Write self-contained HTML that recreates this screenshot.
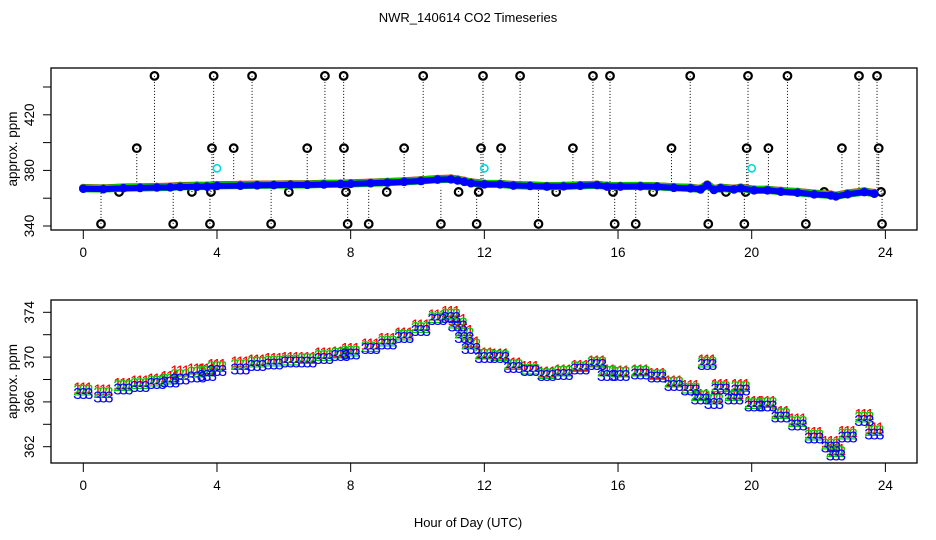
<!DOCTYPE html>
<html><head><meta charset="utf-8"><style>
body{margin:0;background:#fff}
svg{display:block;font-family:"Liberation Sans",sans-serif}
</style></head><body>
<svg id="chart" width="936" height="540" viewBox="0 0 936 540" xmlns="http://www.w3.org/2000/svg">
<rect width="936" height="540" fill="#fff"/>
<text x="468" y="22" font-size="13" text-anchor="middle">NWR_140614  CO2 Timeseries</text>
<text x="468" y="527" font-size="13" text-anchor="middle">Hour of Day (UTC)</text>
<g id="top"></g><g id="bot"></g>
</svg>
<script>
const hours=[0,0.6,1.2,1.7,2.2,2.6,2.9,3.4,3.7,4.0,4.7,5.2,5.7,6.2,6.7,7.2,7.7,8.0,8.6,9.1,9.6,10.1,10.6,11.0,11.2,11.4,11.6,12.0,12.47,12.87,13.37,13.87,14.37,14.87,15.37,15.67,16.07,16.67,17.17,17.67,18.17,18.47,18.67,18.87,19.07,19.47,19.67,20.07,20.47,20.87,21.37,21.87,22.37,22.52,22.87,23.37,23.67];
const series3=[366.8,366.5,367.2,367.4,367.7,367.8,368.1,368.25,368.4,368.85,369.0,369.3,369.45,369.6,369.6,369.9,370.2,370.3,370.8,371.2,371.8,372.4,373.4,373.6,372.8,371.8,370.8,370.0,370.0,369.1,368.85,368.4,368.5,369.0,369.4,368.4,368.4,368.55,368.25,367.5,367.1,366.3,369.4,365.9,367.2,366.3,367.1,365.7,365.7,364.7,364.0,362.8,362.0,361.3,362.9,364.4,363.2];
const series2=[367.1,366.9,367.5,367.7,367.9,368.1,368.5,368.7,368.8,369.2,369.4,369.6,369.7,369.8,369.9,370.2,370.4,370.6,371.0,371.5,372.0,372.7,373.6,373.9,373.1,372.2,371.2,370.3,370.2,369.4,369.0,368.6,368.8,369.2,369.6,368.8,368.7,368.8,368.5,367.8,367.3,366.6,369.6,366.3,367.4,366.6,367.4,365.9,366.0,365.0,364.3,363.1,362.3,361.6,363.2,364.7,363.5];
const series1=[367.3,367.1,367.7,367.9,368.1,368.3,368.8,369.0,369.0,369.4,369.6,369.8,369.9,370.0,370.0,370.4,370.5,370.8,371.2,371.7,372.2,372.9,373.8,374.1,373.4,372.4,371.4,370.4,370.3,369.5,369.2,368.7,368.9,369.3,369.7,368.9,368.8,368.9,368.6,367.9,367.5,366.7,369.8,366.5,367.6,366.8,367.6,366.1,366.1,365.2,364.5,363.3,362.5,361.8,363.4,364.9,363.7];
const outHours=[2.13,3.9,5.05,7.23,7.79,10.17,11.96,13.07,15.25,15.76,18.16,19.89,21.07,23.21,23.75,
 1.6,3.85,4.5,6.7,7.8,9.6,11.9,12.5,14.65,17.6,19.85,20.5,22.7,23.8,
 1.07,3.25,3.82,6.15,7.86,9.08,11.23,11.83,14.15,15.85,17.05,19.23,19.82,22.17,23.87,
 0.53,2.69,3.79,5.62,7.91,8.54,10.7,11.77,13.62,15.9,16.53,18.7,19.78,21.62,23.9];
const outValues=[448,448,448,448,448,448,448,448,448,448,448,448,448,448,448,
 396,396,396,396,396,396,396,396,396,396,396,396,396,396,
 364.5,364.5,364.5,364.5,364.5,364.5,364.5,364.5,364.5,364.5,364.5,364.5,364.5,364.5,364.5,
 341.5,341.5,341.5,341.5,341.5,341.5,341.5,341.5,341.5,341.5,341.5,341.5,341.5,341.5,341.5];
const cyanHours=[4.0,12.0,20.0];
const cyanValues=[381.5,381.5,381.5];
const xTicks=[0,4,8,12,16,20,24];
const topYTicks=[340,360,380,400,420,440];
const topYLabels=[340,380,420];
const botYTicks=[362,364,366,368,370,372,374];
const botYLabels=[362,366,370,374];

const NS='http://www.w3.org/2000/svg';
function mk(p,t,a){const e=document.createElementNS(NS,t);for(const k in a)e.setAttribute(k,a[k]);p.appendChild(e);return e;}
const X=h=>83.3+h*33.42;
const topY=v=>226-(v-340)*1.39;
const botY=v=>312.3-(v-374)*11.2;

function frame(g,top,bot,yt,yl,Y,name){
  let r=mk(g,'rect',{x:51,y:top,width:866,height:bot-top,fill:'none',stroke:'#000','stroke-width':1.3});
  
  
  xTicks.forEach(h=>{
    let l=mk(g,'line',{x1:X(h),x2:X(h),y1:bot,y2:bot+9,stroke:'#000'});
    
    
    let t=mk(g,'text',{x:X(h),y:bot+27,'font-size':13.5,'text-anchor':'middle'});t.textContent=h;
    
    
  });
  yt.forEach(v=>{
    let l=mk(g,'line',{x1:43,x2:51,y1:Y(v),y2:Y(v),stroke:'#000'});
    
    
  });
  yl.forEach(v=>{
    let t=mk(g,'text',{x:0,y:0,'font-size':13.5,'text-anchor':'middle',transform:`translate(34,${Y(v)}) rotate(-90)`});t.textContent=v;
    
    
  });
  let a=mk(g,'text',{x:0,y:0,'font-size':13.5,'text-anchor':'middle',transform:`translate(17,${(top+bot)/2}) rotate(-90)`});a.textContent='approx. ppm';
  
  
}
const gt=document.getElementById('top'),gb=document.getElementById('bot');
frame(gt,68,230,topYTicks,topYLabels,topY,'top');
frame(gb,300,463,botYTicks,botYLabels,botY,'bottom');

outHours.forEach((h,i)=>{
  let l=mk(gt,'line',{x1:X(h),x2:X(h),y1:topY(outValues[i]),y2:topY(367.5),stroke:'#000','stroke-dasharray':'1,2'});
  
  
  let c=mk(gt,'circle',{cx:X(h),cy:topY(outValues[i]),r:3.8,fill:'none',stroke:'#000','stroke-width':2.2});
  
  
});
cyanHours.forEach((h,i)=>{
  let c=mk(gt,'circle',{cx:X(h),cy:topY(cyanValues[i]),r:3.6,fill:'none',stroke:'#00d8e0','stroke-width':1.6});
  
  
});
[[series1,'#f00'],[series2,'#0c0'],[series3,'#00f']].forEach(([s,col],k)=>{
  let pts=hours.map((h,i)=>X(h)+','+topY(s[i])).join(' ');
  let pl=mk(gt,'polyline',{points:pts,fill:'none',stroke:col,'stroke-width':k==2?6:8,'stroke-linejoin':'round','stroke-linecap':'round'});
  
  
  hours.forEach((h,i)=>{
    let c=mk(gt,'circle',{cx:X(h),cy:topY(s[i]),r:3.5,fill:'none',stroke:col,'stroke-width':1.6});
    
    
  });
});
[[series1,'#f00','1'],[series2,'#0c0','2'],[series3,'#00f','3']].forEach(([s,col,ch],k)=>{
  hours.forEach((h,i)=>{
    [-0.17,0,0.17].forEach(d=>{
      let t=mk(gb,'text',{x:X(h+d),y:botY(s[i])+6,'font-size':16,fill:col,'text-anchor':'middle'});t.textContent=ch;
      
      
    });
  });
});
</script>
</body></html>
